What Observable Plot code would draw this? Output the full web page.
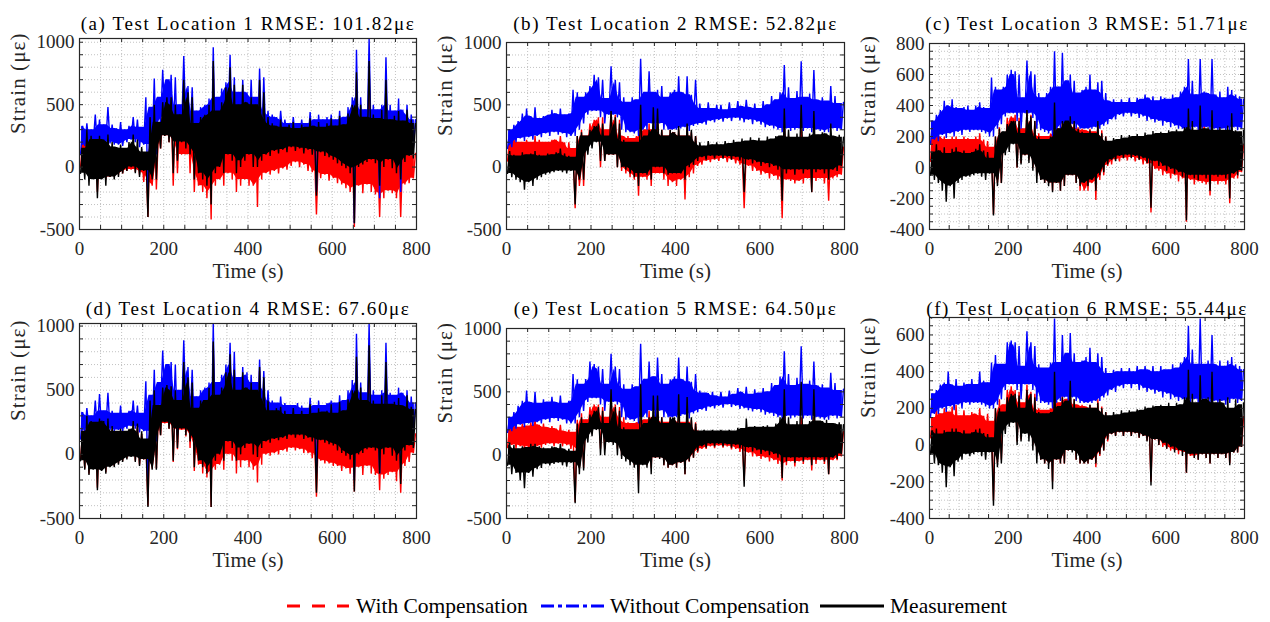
<!DOCTYPE html>
<html>
<head>
<meta charset="utf-8">
<script src="https://cdn.jsdelivr.net/npm/d3@7"></script>
<script src="https://cdn.jsdelivr.net/npm/@observablehq/plot@0.6"></script>
<style>
  body { margin: 0; background: #fff; font-family: "Liberation Serif", "Times New Roman", serif; }
  #root { position: relative; width: 1270px; height: 622px; overflow: hidden; background: #fff; }
  #root svg.panel { position: absolute; }
  .leg-line { position: absolute; }
  .leg-text { position: absolute; font-family: "Liberation Serif", serif; font-size: 21.5px; color: #000;
              white-space: nowrap; line-height: 24px; }
</style>
</head>
<body>
<div id="root"></div>
<script>
// ---------- shared axes ----------
const timeBins = d3.range(0, 800, 10);            // start of each 10 s bin
const xTicks = [0, 200, 400, 600, 800];
const xGrid50 = d3.range(50, 800, 50);
const xGrid25 = d3.range(25, 800, 25);
const xTickMarks = d3.range(50, 800, 50);
const yTicks1000 = [-500, 0, 500, 1000];
const yGrid1000 = d3.range(-400, 1001, 100);
const yTicks800 = [-400, -200, 0, 200, 400, 600, 800];
const yGrid800 = d3.range(-350, 800, 50);
const yTicks600 = [-400, -200, 0, 200, 400, 600];
const yGrid600 = d3.range(-350, 690, 50);

const legendLabels = ["With Compensation", "Without Compensation", "Measurement"];

// ---------- (a) Test Location 1: per-10 s bin max / min ----------
const aBlueHi = [330,350,300,420,380,340,480,340,310,360, 300,330,400,380,320,560,480,710,560,780,
  700,740,720,500,890,650,640,450,480,500, 550,960,560,630,680,900,720,600,700,600,
  700,560,790,720,450,420,400,450,380,350, 400,350,380,350,440,380,420,380,400,420,
  380,450,400,480,560,940,560,460,1030,500, 460,500,880,500,450,550,460,500,420,380];
const aBlueLo = [100,170,180,190,170,180,200,190,180,180, 170,200,220,200,160,180,-250,150,100,350,
  400,380,250,150,300,350,250,150,150,100, 50,-100,100,100,200,350,250,150,200,200,
  200,200,150,200,200,230,240,230,250,250, 230,220,220,210,200,200,-200,200,180,180,
  170,160,150,150,100,-450,100,100,150,150, 150,-250,100,150,150,100,-200,150,150,150];
const aBlackHi = [150,300,250,220,250,220,260,200,160,180, 150,200,260,220,160,120,400,500,360,520,
  560,560,500,420,700,600,560,350,400,420, 500,850,450,520,640,800,660,500,660,520,
  560,500,700,600,400,350,330,380,320,340, 360,310,340,320,390,330,360,320,350,390,
  330,410,340,430,500,760,500,400,850,420, 390,460,700,380,410,450,370,460,380,350];
const aBlackLo = [-50,-100,-150,-100,-250,-100,-150,-80,-100,-80, -50,-30,0,-50,-80,-30,-400,-100,-100,150,
  250,200,-50,50,200,150,100,-100,-50,-100, -150,-300,-50,0,-50,100,50,-50,0,50,
  100,0,0,50,100,90,130,110,140,120, 160,130,150,110,140,100,-230,120,90,80,
  60,30,10,-10,-50,-450,0,20,40,60, 30,-150,0,60,-10,-50,-100,40,90,70];
const aRedHi = [200,280,250,220,200,160,200,150,150,130, 120,150,200,150,120,100,300,450,300,450,
  500,500,450,350,650,550,450,250,300,300, 400,800,350,400,550,700,550,400,500,400,
  450,400,600,350,300,140,170,150,190,170, 210,180,200,160,170,140,160,130,150,120,
  130,150,110,160,200,700,400,140,700,160, 130,200,500,160,140,200,150,160,90,110];
const aRedLo = [0,-50,-100,-80,-200,-80,-100,-80,-80,-60, -50,-30,-20,-40,-60,-120,-400,-150,-180,150,
  250,200,-150,-50,100,100,-50,-200,-150,-200, -250,-420,-150,-100,-150,-50,-100,-200,-150,-100,
  -150,-150,-320,-100,-50,-60,-30,-50,-10,-20, 10,40,0,20,-30,-40,-380,-90,-60,-110,
  -90,-130,-140,-170,-200,-480,-150,-210,-140,-200, -220,-400,-250,-190,-210,-250,-400,-140,-130,-90];

// ---------- (b) Test Location 2 ----------
const bBlueHi = [300,340,370,430,470,410,480,390,410,420, 460,430,470,420,430,620,600,560,600,650,
  740,720,700,550,810,700,680,560,520,560, 540,870,600,770,600,620,650,560,600,620,
  730,600,730,580,700,510,470,520,470,500, 500,460,520,470,530,490,540,480,510,470,
  530,500,570,540,600,820,640,550,610,850, 560,590,780,540,560,530,650,570,510,520];
const bBlueLo = [150,160,200,230,210,240,220,250,240,270, 250,280,260,270,240,250,250,300,350,420,
  450,450,400,350,420,420,400,300,280,280, 270,250,300,300,350,300,350,300,300,300,
  300,310,320,290,330,340,350,340,370,360, 380,365,390,370,395,375,360,380,345,365,
  340,320,330,310,300,280,310,290,300,310, 290,310,280,300,290,280,280,310,290,300];
const bBlackHi = [130,100,90,120,100,110,130,100,90,110, 100,120,150,110,90,80,250,280,250,300,
  330,350,350,250,450,400,350,220,200,200, 200,500,250,300,480,470,300,250,300,280,
  330,250,350,300,250,200,170,210,180,200, 180,210,190,220,200,230,210,240,215,235,
  210,245,225,250,250,470,300,240,270,500, 240,270,450,260,280,270,350,250,260,240];
const bBlackLo = [-50,-80,-100,-120,-180,-120,-150,-100,-80,-60, -50,-40,-30,-40,-50,-30,-300,-100,-100,100,
  150,200,50,50,100,100,0,0,-20,-50, -80,-150,-50,-60,-100,0,0,-50,-60,-50,
  -50,-50,-100,0,20,50,80,60,90,70, 90,70,85,60,80,55,-200,60,30,40,
  10,30,0,10,-20,-270,-50,-20,-60,-20, -50,-20,-200,-40,-20,-50,-100,-20,-30,10];
const bRedHi = [220,250,200,200,220,200,250,220,200,200, 220,220,250,200,200,150,250,300,250,350,
  380,400,400,300,450,420,380,250,250,230, 250,350,300,350,300,420,300,250,300,280,
  300,250,330,280,250,170,160,150,150,130, 150,130,145,130,150,135,140,130,140,120,
  130,120,140,125,150,350,250,140,160,300, 140,160,300,140,160,140,200,160,140,160];
const bRedLo = [50,30,20,0,-50,0,-20,20,40,40, 40,40,50,40,20,0,-330,-150,-150,150,
  200,250,0,50,100,100,0,-30,-50,-80, -100,-230,-80,-100,-150,-50,-50,-100,-150,-120,
  -150,-100,-260,-80,-50,10,20,50,40,60, 50,70,40,60,30,20,-330,10,-30,-30,
  -60,-50,-90,-70,-100,-410,-100,-110,-130,-110, -130,-90,-200,-110,-90,-130,-270,-90,-80,-60];

// ---------- (c) Test Location 3 ----------
const cBlueHi = [300,340,370,430,400,440,390,380,390,400, 370,400,420,390,380,580,520,500,520,600,
  630,620,600,450,690,620,600,480,450,480, 520,750,520,740,560,600,560,480,500,520,
  600,500,550,560,480,430,440,420,440,420, 450,420,450,440,470,450,460,430,460,450,
  440,470,450,490,520,700,560,470,700,490, 480,700,470,490,450,520,500,470,460,440];
const cBlueLo = [150,180,170,210,190,220,200,230,210,240, 230,240,240,230,220,200,200,250,280,330,
  350,350,300,250,350,350,320,250,240,230, 220,200,240,250,280,250,280,250,250,250,
  250,250,260,250,270,280,310,310,340,330, 350,330,345,320,330,300,310,290,300,270,
  290,260,270,250,250,230,240,260,240,250, 260,240,250,240,250,230,240,260,240,250];
const cBlackHi = [100,150,110,130,90,120,130,100,110,90, 100,120,150,110,100,60,200,250,230,280,
  300,300,300,220,370,330,300,200,180,180, 200,420,250,300,300,330,300,250,230,220,
  240,220,300,220,200,170,190,180,210,190, 210,200,215,200,225,210,235,220,230,220,
  240,230,245,230,260,380,300,240,400,250, 260,370,240,260,240,270,350,240,230,240];
const cBlackLo = [-50,-80,-100,-150,-220,-120,-200,-100,-80,-60, -60,-50,-40,-60,-80,-40,-310,-120,-100,80,
  100,150,0,20,80,30,-20,-100,-80,-100, -120,-160,-100,-150,-120,-50,-50,-100,-120,-100,
  -120,-80,-150,-50,-30,20,50,40,75,60, 80,60,75,50,60,30,-260,40,10,10,
  -20,-10,-40,-30,-60,-340,-50,-70,-80,-50, -70,-150,-50,-60,-50,-70,-200,-40,-50,-20];
const cRedHi = [200,230,200,200,180,200,200,180,200,190, 180,200,220,180,170,130,200,260,220,320,
  330,340,320,250,370,340,300,220,200,200, 220,330,250,300,250,330,300,260,250,240,
  250,230,300,240,200,140,150,130,145,135, 150,130,145,135,140,125,135,120,130,125,
  120,135,125,140,150,350,250,140,160,300, 140,300,160,140,150,140,250,160,140,150];
const cRedLo = [40,30,20,0,-20,0,0,20,30,30, 30,30,40,30,20,0,-300,-100,-100,100,
  150,180,0,30,80,50,0,-50,-80,-100, -100,-150,-100,-150,-120,-50,-50,-100,-150,-150,
  -150,-100,-210,-80,-50,10,20,50,40,60, 45,65,40,50,20,25,-290,-10,-20,-50,
  -40,-70,-50,-90,-70,-350,-80,-110,-90,-100, -110,-180,-90,-110,-90,-110,-230,-70,-70,-30];

// ---------- (d) Test Location 4 ----------
const dBlueHi = [330,360,300,420,470,340,480,340,320,380, 320,340,420,380,320,570,460,660,560,810,
  700,720,700,500,890,680,660,450,500,520, 560,1020,560,620,700,870,800,600,680,640,
  620,560,740,650,500,420,400,450,400,380, 380,400,380,360,440,380,420,380,400,420,
  400,460,420,500,580,940,560,480,1020,500, 460,500,870,480,460,520,480,500,450,400];
const dBlueLo = [120,170,200,200,180,190,200,190,180,190, 180,200,220,200,170,180,-250,150,100,350,
  400,380,250,150,300,350,250,150,150,100, 50,-100,100,100,200,350,250,150,200,200,
  200,200,150,200,200,230,240,230,240,240, 240,230,220,210,200,200,-150,200,180,180,
  170,160,150,150,100,-200,100,100,150,150, 150,-150,100,150,150,100,-100,150,150,150];
const dBlackHi = [180,300,260,250,280,260,280,220,180,200, 180,200,260,240,180,120,420,500,380,520,
  540,530,500,420,720,600,560,360,420,420, 520,880,460,520,640,780,660,500,640,520,
  560,500,680,600,420,340,360,370,340,310, 360,310,340,310,390,320,360,330,340,390,
  320,410,340,430,500,760,520,420,850,420, 390,460,720,390,410,440,380,460,370,350];
const dBlackLo = [-50,-120,-160,-120,-280,-130,-150,-100,-100,-80, -60,-40,-20,-60,-90,-40,-410,-120,-120,150,
  250,200,-50,50,200,150,100,-100,-50,-100, -150,-410,-50,0,-50,100,50,-50,0,50,
  80,0,-20,50,100,90,120,110,130,120, 150,130,150,120,130,100,-300,110,90,80,
  70,30,10,-10,-40,-290,0,10,40,50, 30,-150,0,50,-10,-50,-230,30,70,50];
const dRedHi = [180,280,240,220,260,230,250,200,160,180, 150,180,240,220,160,100,300,450,330,480,
  520,520,470,380,680,580,520,300,380,380, 480,850,420,480,600,750,620,460,600,480,
  520,460,650,560,380,190,210,200,230,220, 250,230,240,210,210,180,200,170,180,150,
  160,170,140,190,250,720,450,190,780,210, 190,260,650,200,210,240,200,210,140,160];
const dRedLo = [-40,-110,-150,-110,-260,-120,-140,-90,-90,-70, -50,-30,-10,-50,-80,-40,-400,-110,-110,150,
  240,200,-60,40,190,140,50,-130,-80,-150, -180,-410,-120,-80,-120,0,-50,-150,-100,-50,
  -100,-120,-220,-80,0,-10,10,0,30,20, 50,30,40,10,10,-30,-330,-50,-70,-70,
  -90,-90,-130,-110,-150,-290,-100,-160,-90,-150, -160,-280,-190,-160,-140,-210,-300,-90,-60,10];

// ---------- (e) Test Location 5 ----------
const eBlueHi = [300,340,390,430,510,420,500,410,440,420, 460,420,470,410,430,640,600,560,600,740,
  720,700,680,560,800,700,680,560,520,560, 540,880,600,740,620,770,640,560,600,620,
  770,600,700,580,640,510,490,490,500,470, 500,460,510,480,530,500,540,480,520,490,
  530,500,570,550,620,820,640,550,610,860, 560,590,740,550,560,530,650,570,510,520];
const eBlueLo = [180,190,210,240,220,250,230,260,250,280, 260,290,270,280,250,250,250,300,350,420,
  450,450,400,350,420,420,400,300,280,280, 270,250,300,300,350,300,350,300,300,300,
  300,310,320,290,330,340,360,350,380,370, 390,375,400,380,390,365,370,355,345,360,
  340,320,330,310,300,280,310,290,300,310, 290,310,280,300,290,280,280,310,290,300];
const eBlackHi = [100,80,50,70,60,90,90,70,60,50, 70,60,90,50,50,30,250,300,250,320,
  350,380,350,250,520,380,350,220,200,200, 200,560,250,300,470,470,300,250,300,300,
  480,250,460,300,250,190,200,190,200,190, 200,190,200,190,215,210,290,220,230,220,
  230,235,220,250,300,520,300,240,270,580, 240,270,520,270,270,280,250,250,260,240];
const eBlackLo = [-80,-150,-140,-200,-260,-140,-170,-110,-100,-70, -80,-70,-60,-80,-90,-60,-380,-150,-120,100,
  150,200,0,0,100,80,0,-30,-50,-80, -100,-300,-80,-100,-150,-20,-30,-80,-100,-80,
  -100,-60,-150,-50,-20,30,70,60,90,70, 90,70,85,60,80,55,-250,60,30,40,
  10,30,0,10,-20,-180,-50,-20,-60,-20, -50,-20,-80,-40,-20,-50,-150,-20,-30,10];
const eRedHi = [220,250,220,250,230,260,290,240,250,220, 230,210,240,190,200,180,280,330,280,380,
  400,400,380,300,450,400,380,300,260,250, 260,350,280,350,300,380,300,260,300,280,
  300,260,320,280,260,190,190,170,180,160, 180,160,175,165,180,170,175,160,165,155,
  165,150,170,155,180,350,250,170,190,300, 170,190,300,170,190,170,220,190,170,185];
const eRedLo = [60,80,50,70,40,60,40,70,60,80, 90,70,90,70,80,50,-370,-100,-100,150,
  200,220,50,50,120,100,50,0,-20,-50, -80,-200,-50,-80,-100,-20,-20,-80,-100,-80,
  -100,-60,-150,-50,-20,20,50,50,70,55, 75,60,70,45,50,25,-200,20,-10,-10,
  -30,-20,-50,-40,-70,-200,-80,-50,-90,-50, -70,-40,-120,-70,-40,-70,-150,-40,-40,-10];

// ---------- (f) Test Location 6 ----------
const fBlueHi = [280,300,330,340,400,330,360,320,340,330, 360,330,400,350,340,450,490,440,440,560,
  570,560,540,430,620,560,540,440,420,420, 450,690,450,600,500,610,500,450,460,480,
  530,450,500,480,420,390,410,400,420,400, 420,400,430,410,430,410,430,400,430,410,
  410,440,420,450,480,650,520,440,690,440, 460,600,440,460,430,460,480,440,430,410];
const fBlueLo = [150,170,170,200,180,210,190,220,200,230, 220,230,230,220,210,200,200,220,250,300,
  330,330,300,250,330,330,300,240,230,230, 220,200,230,240,260,240,260,240,230,230,
  230,230,240,240,260,270,300,290,320,310, 330,310,330,300,310,290,300,280,290,260,
  280,250,260,240,250,220,230,250,230,240, 250,230,240,230,240,220,230,250,230,240];
const fBlackHi = [80,90,60,80,70,90,90,70,80,60, 70,85,90,65,60,40,200,200,180,260,
  280,280,270,200,300,280,260,180,170,170, 180,400,210,260,240,350,250,200,200,200,
  220,200,230,200,180,160,180,165,190,175, 190,180,195,190,210,200,215,210,220,210,
  230,210,230,220,260,410,280,230,380,250, 260,400,230,250,230,260,200,250,220,230];
const fBlackLo = [-50,-100,-110,-150,-230,-120,-170,-90,-80,-50, -60,-50,-40,-60,-80,-40,-330,-120,-100,60,
  100,120,0,20,60,20,-30,-100,-80,-100, -130,-240,-80,-100,-100,-30,-40,-80,-100,-100,
  -100,-80,-100,-50,-30,30,60,50,70,50, 70,50,65,40,50,20,-220,30,0,10,
  -20,-10,-40,-30,-60,-150,-50,-70,-80,-50, -70,-100,-50,-70,-50,-70,-110,-40,-40,-10];
const fRedHi = [150,200,170,200,180,210,220,160,190,160, 180,170,200,160,170,130,200,250,220,300,
  320,300,290,230,330,290,280,200,190,190, 200,300,230,280,250,330,250,220,220,210,
  220,200,250,210,180,140,150,130,150,135, 150,130,145,135,150,130,145,130,150,135,
  130,145,135,150,150,300,220,140,160,250, 140,250,160,140,160,140,200,160,140,155];
const fRedLo = [40,30,20,0,0,20,20,30,40,40, 40,40,50,40,30,10,-300,-100,-80,100,
  130,150,20,30,80,50,0,-50,-80,-100, -100,-200,-80,-100,-100,-30,-30,-80,-100,-100,
  -100,-80,-120,-60,-30,20,60,50,70,50, 70,50,65,40,50,25,-200,30,0,-10,
  -20,-30,-30,-50,-40,-150,-60,-70,-80,-50, -70,-100,-50,-70,-50,-70,-100,-40,-40,-10];

// ---------- panel definitions ----------
const panels = [
  {title: "(a) Test Location 1 RMSE: 101.82\u03bc\u03b5", box: [79, 38, 416, 229], titleY: 15.5,
   yDomain: [-500, 1030], yTicks: yTicks1000, yGrid: yGrid1000, xGrid: xGrid50,
   red: [aRedHi, aRedLo], blue: [aBlueHi, aBlueLo], black: [aBlackHi, aBlackLo]},
  {title: "(b) Test Location 2 RMSE: 52.82\u03bc\u03b5", box: [506, 42, 844, 229], titleY: 15.5,
   yDomain: [-500, 1000], yTicks: yTicks1000, yGrid: yGrid1000, xGrid: xGrid50,
   red: [bRedHi, bRedLo], blue: [bBlueHi, bBlueLo], black: [bBlackHi, bBlackLo]},
  {title: "(c) Test Location 3 RMSE: 51.71\u03bc\u03b5", box: [929, 43, 1244, 229], titleY: 16,
   yDomain: [-400, 800], yTicks: yTicks800, yGrid: yGrid800, xGrid: xGrid25,
   red: [cRedHi, cRedLo], blue: [cBlueHi, cBlueLo], black: [cBlackHi, cBlackLo]},
  {title: "(d) Test Location 4 RMSE: 67.60\u03bc\u03b5", box: [79, 323, 416, 518], titleY: 300.5,
   yDomain: [-500, 1020], yTicks: yTicks1000, yGrid: yGrid1000, xGrid: xGrid50,
   red: [dRedHi, dRedLo], blue: [dBlueHi, dBlueLo], black: [dBlackHi, dBlackLo]},
  {title: "(e) Test Location 5 RMSE: 64.50\u03bc\u03b5", box: [506, 328, 844, 518], titleY: 301,
   yDomain: [-500, 1000], yTicks: yTicks1000, yGrid: yGrid1000, xGrid: xGrid50,
   red: [eRedHi, eRedLo], blue: [eBlueHi, eBlueLo], black: [eBlackHi, eBlackLo]},
  {title: "(f) Test Location 6 RMSE: 55.44\u03bc\u03b5", box: [929, 317, 1244, 518], titleY: 301,
   yDomain: [-400, 695], yTicks: yTicks600, yGrid: yGrid600, xGrid: xGrid25,
   red: [fRedHi, fRedLo], blue: [fBlueHi, fBlueLo], black: [fBlackHi, fBlackLo]}
];

// per-bin max/min -> alternating min/max polyline (no invented values)
function envelope([hi, lo]) {
  return timeBins.flatMap((t, i) => [{t: t + 2.5, v: lo[i]}, {t: t + 7.5, v: hi[i]}]);
}
// dense core of the band: range shared by a bin and its neighbours
function core([hi, lo]) {
  const n = hi.length;
  return timeBins.map((t, i) => {
    const a = Math.max(0, i - 1), b = Math.min(n - 1, i + 1);
    const top = d3.min([hi[a], hi[i], hi[b]]);
    const bot = d3.max([lo[a], lo[i], lo[b]]);
    return {t: t + 5, y1: Math.min(top, bot), y2: Math.max(top, bot)};
  });
}

const FONT = "Liberation Serif, Times New Roman, serif";
const AXIS = "#262626";
const GRID = "#c2c2c2";
const COLORS = {red: "#ff0000", blue: "#0000ff", black: "#000000"};
const LW = 1.4;
const mL = 80, mR = 25, mT = 50, mB = 66;
const root = document.getElementById("root");

function seriesMarks(series, color) {
  return [
    Plot.areaY(core(series), {x: "t", y1: "y1", y2: "y2", fill: color, clip: "frame"}),
    Plot.line(envelope(series), {x: "t", y: "v", stroke: color, strokeWidth: LW, strokeLinejoin: "miter", clip: "frame"})
  ];
}

for (const p of panels) {
  const [x0, y0, x1, y1] = p.box;
  const pw = x1 - x0, ph = y1 - y0;
  const svg = Plot.plot({
    width: pw + mL + mR, height: ph + mT + mB,
    marginLeft: mL, marginRight: mR, marginTop: mT, marginBottom: mB,
    style: {background: "transparent", fontFamily: FONT, color: AXIS, overflow: "visible"},
    x: {domain: [0, 800]},
    y: {domain: p.yDomain},
    marks: [
      Plot.ruleX(p.xGrid, {x: d => d, stroke: GRID, strokeDasharray: "1,2"}),
      Plot.ruleY(p.yGrid, {y: d => d, stroke: GRID, strokeDasharray: "1,2"}),
      ...seriesMarks(p.red, COLORS.red),
      ...seriesMarks(p.blue, COLORS.blue),
      ...seriesMarks(p.black, COLORS.black),
      Plot.tickX(xTickMarks, {x: d => d, insetTop: ph - 4, stroke: AXIS}),
      Plot.tickX(xTickMarks, {x: d => d, insetBottom: ph - 4, stroke: AXIS}),
      Plot.tickY(p.yGrid, {y: d => d, insetRight: pw - 4, stroke: AXIS}),
      Plot.tickY(p.yGrid, {y: d => d, insetLeft: pw - 4, stroke: AXIS}),
      Plot.frame({stroke: AXIS, strokeWidth: 1.2}),
      Plot.axisX({ticks: xTicks, tickFormat: d => String(d), tickSize: 0, tickPadding: 12,
                  fontSize: 19, fontFamily: FONT, label: null}),
      Plot.axisY({ticks: p.yTicks, tickFormat: d => String(d), tickSize: 0, tickPadding: 5,
                  fontSize: 19, fontFamily: FONT, label: null}),
      Plot.text([p.title], {text: d => d, frameAnchor: "top", dy: p.titleY - y0, fontSize: 19,
                            fontFamily: FONT, fill: "#000"}),
      Plot.text(["Time (s)"], {text: d => d, frameAnchor: "bottom", dy: 48, fontSize: 21,
                               fontFamily: FONT, fill: AXIS}),
      Plot.text(["Strain (\u03bc\u03b5)"], {text: d => d, frameAnchor: "left", dx: -61, rotate: -90,
                               fontSize: 21, fontFamily: FONT, fill: AXIS})
    ]
  });
  svg.classList.add("panel");
  svg.style.left = (x0 - mL) + "px";
  svg.style.top = (y0 - mT) + "px";
  d3.select(svg).selectAll("text").filter(function () { return this.textContent === p.title; })
    .style("letter-spacing", "1.6px");
  d3.select(svg).selectAll("text").filter(function () { return this.textContent === "Strain (\u03bc\u03b5)"; })
    .style("letter-spacing", "1.1px");
  root.appendChild(svg);
}

// ---------- legend ----------
const legendItems = [
  {color: COLORS.red, dash: "13,12", line: [287, 349], textX: 356},
  {color: COLORS.blue, dash: "13,4,4,4", line: [541, 604], textX: 610},
  {color: COLORS.black, dash: null, line: [820, 884], textX: 890}
];
const rootSel = d3.select("#root");
legendLabels.forEach((label, i) => {
  const it = legendItems[i];
  const w = it.line[1] - it.line[0];
  const s = rootSel.append("svg").attr("class", "leg-line").attr("width", w).attr("height", 8)
    .style("left", it.line[0] + "px").style("top", "602px");
  const ln = s.append("line").attr("x1", 0).attr("x2", w).attr("y1", 4).attr("y2", 4)
    .attr("stroke", it.color).attr("stroke-width", 3);
  if (it.dash) ln.attr("stroke-dasharray", it.dash);
  rootSel.append("div").attr("class", "leg-text").style("left", it.textX + "px").style("top", "594px").text(label);
});
</script>
</body>
</html>
